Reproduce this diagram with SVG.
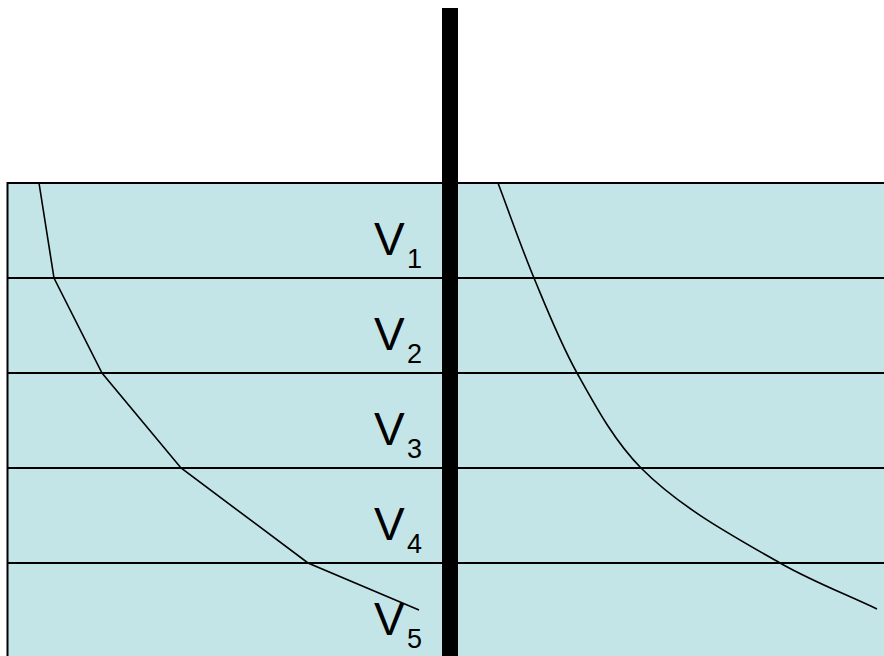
<svg xmlns="http://www.w3.org/2000/svg" width="884" height="656" viewBox="0 0 884 656">
<style>
.v{font-family:"Liberation Sans",Arial,sans-serif;font-size:46px;fill:#000}
.s{font-family:"Liberation Sans",Arial,sans-serif;font-size:27px;fill:#000}
.h{stroke:#000;stroke-width:2;fill:none}
.c{stroke:#000;stroke-width:1.6;fill:none}
</style>
<rect width="884" height="656" fill="#fff"/>
<g id="medium">
<rect x="7.5" y="183" width="880" height="480" fill="#C4E5E8" stroke="#000" stroke-width="2"/>
</g>
<g id="layers">
<line class="h" x1="7" y1="278" x2="884" y2="278"/>
<line class="h" x1="7" y1="373" x2="884" y2="373"/>
<line class="h" x1="7" y1="468" x2="884" y2="468"/>
<line class="h" x1="7" y1="563" x2="884" y2="563"/>
</g>
<g id="curves">
<polyline class="c" points="39,183 54,278 102,373 181,468 308,563 419,610"/>
<path class="c" d="M498,183 C510,214.7 521,246.7 534,278 C547.3,310.1 560.1,342.6 577,373 C595.6,406.3 614.1,440.9 641,468 C680.6,507.8 731.4,535.1 780,563 C811,580.8 844.7,593.7 877,609"/>
</g>
<g id="labels">
<text class="v" x="374" y="255">V</text><text class="s" x="407" y="268">1</text>
<text class="v" x="374" y="350">V</text><text class="s" x="407" y="363">2</text>
<text class="v" x="374" y="445">V</text><text class="s" x="407" y="458">3</text>
<text class="v" x="374" y="540">V</text><text class="s" x="407" y="553">4</text>
<text class="v" x="374" y="635">V</text><text class="s" x="407" y="648">5</text>
</g>
<g id="wall">
<rect x="442" y="8" width="16" height="648" fill="#000"/>
</g>
</svg>
